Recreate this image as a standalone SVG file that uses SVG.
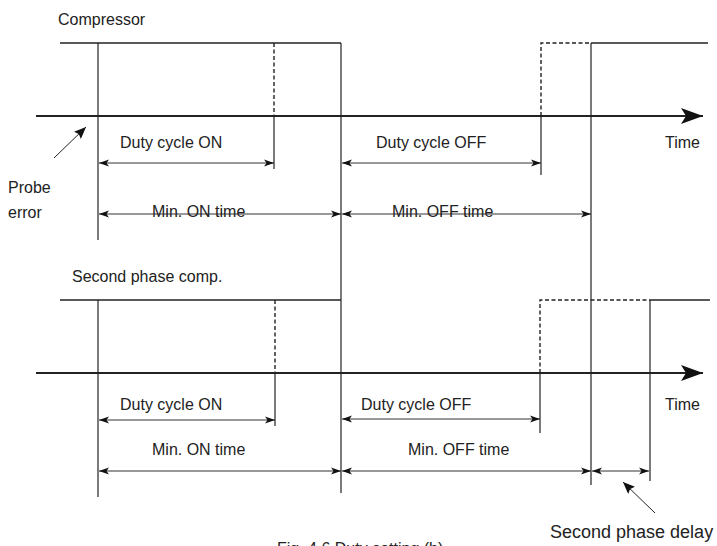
<svg xmlns="http://www.w3.org/2000/svg" width="717" height="546" viewBox="0 0 717 546">
<defs>
<marker id="dim" viewBox="0 0 10 8" refX="10" refY="4" markerWidth="10" markerHeight="8" markerUnits="userSpaceOnUse" orient="auto-start-reverse">
<path d="M0,0.5 L10,4 L0,7.5 L2.5,4 Z" fill="#111"/>
</marker>
<marker id="ptr" viewBox="0 0 12 10" refX="12" refY="5" markerWidth="12" markerHeight="10" markerUnits="userSpaceOnUse" orient="auto">
<path d="M0,0 L12,5 L0,10 L2,5 Z" fill="#111"/>
</marker>
<marker id="axis" viewBox="0 0 22 16" refX="22" refY="8" markerWidth="22" markerHeight="16" markerUnits="userSpaceOnUse" orient="auto">
<path d="M0,0 L22,8 L0,16 L5,8 Z" fill="#111"/>
</marker>
</defs>
<style>
text{font-family:"Liberation Sans",Arial,sans-serif;font-size:16px;fill:#222}
.ax{stroke:#222;stroke-width:2;fill:none}
.hi{stroke:#222;stroke-width:1.6;fill:none}
.v{stroke:#222;stroke-width:1.2;fill:none}
.dash{stroke:#222;stroke-width:1.4;fill:none;stroke-dasharray:4,2.5}
.dim{stroke:#333;stroke-width:1;fill:none;marker-start:url(#dim);marker-end:url(#dim)}
.pt{stroke:#222;stroke-width:1;fill:none;marker-end:url(#ptr)}
</style>
<rect width="717" height="546" fill="#fff"/>

<g id="compressor">
<text x="58" y="25">Compressor</text>
<line class="hi" x1="60" y1="43" x2="341" y2="43"/>
<line class="dash" x1="274" y1="43" x2="274" y2="116"/>
<line class="v" x1="274" y1="116" x2="274" y2="169"/>
<path class="dash" d="M541,116 V43 H591"/>
<line class="hi" x1="591" y1="43" x2="708" y2="43"/>
<line class="v" x1="541" y1="116" x2="541" y2="175"/>
<line class="v" x1="98" y1="43" x2="98" y2="240"/>
<line class="ax" x1="36" y1="116" x2="703" y2="116" style="marker-end:url(#axis)"/>
<text x="665" y="148">Time</text>
</g>

<g id="second-phase">
<text x="72" y="282">Second phase comp.</text>
<line class="hi" x1="60" y1="300" x2="341" y2="300"/>
<line class="dash" x1="275" y1="300" x2="275" y2="373"/>
<line class="v" x1="275" y1="373" x2="275" y2="426"/>
<path class="dash" d="M540,373 V300 H650"/>
<line class="hi" x1="650" y1="300" x2="710" y2="300"/>
<line class="v" x1="540" y1="373" x2="540" y2="433"/>
<line class="v" x1="650" y1="300" x2="650" y2="481"/>
<line class="v" x1="98" y1="300" x2="98" y2="497"/>
<line class="ax" x1="36" y1="373" x2="703" y2="373" style="marker-end:url(#axis)"/>
<text x="665" y="410">Time</text>
</g>

<g id="shared-lines">
<line class="v" x1="341" y1="43" x2="341" y2="493"/>
<line class="v" x1="591" y1="43" x2="591" y2="485"/>
</g>

<g id="probe-error">
<text x="8" y="193">Probe</text>
<text x="8" y="218">error</text>
</g>

<g id="connectors">
<line class="pt" x1="54" y1="158" x2="86" y2="127"/>
<line class="dim" x1="99" y1="163" x2="274" y2="163"/>
<line class="dim" x1="342" y1="163" x2="541" y2="163"/>
<line class="dim" x1="99" y1="214" x2="341" y2="214"/>
<line class="dim" x1="342" y1="214" x2="591" y2="214"/>
<line class="dim" x1="99" y1="420" x2="275" y2="420"/>
<line class="dim" x1="342" y1="419" x2="540" y2="419"/>
<line class="dim" x1="99" y1="471" x2="341" y2="471"/>
<line class="dim" x1="342" y1="471" x2="591" y2="471"/>
<line class="dim" x1="592" y1="471" x2="649" y2="471"/>
<line class="pt" x1="655" y1="513" x2="623" y2="482"/>
</g>

<g id="labels">
<text x="120" y="148">Duty cycle ON</text>
<text x="376" y="148">Duty cycle OFF</text>
<text x="152" y="217">Min. ON time</text>
<text x="392" y="217">Min. OFF time</text>
<text x="120" y="410">Duty cycle ON</text>
<text x="361" y="410">Duty cycle OFF</text>
<text x="152" y="455">Min. ON time</text>
<text x="408" y="455">Min. OFF time</text>
<text x="550" y="538" style="font-size:18px">Second phase delay</text>
<text x="277" y="554">Fig. 4.6 Duty setting (b)</text>
</g>
</svg>
